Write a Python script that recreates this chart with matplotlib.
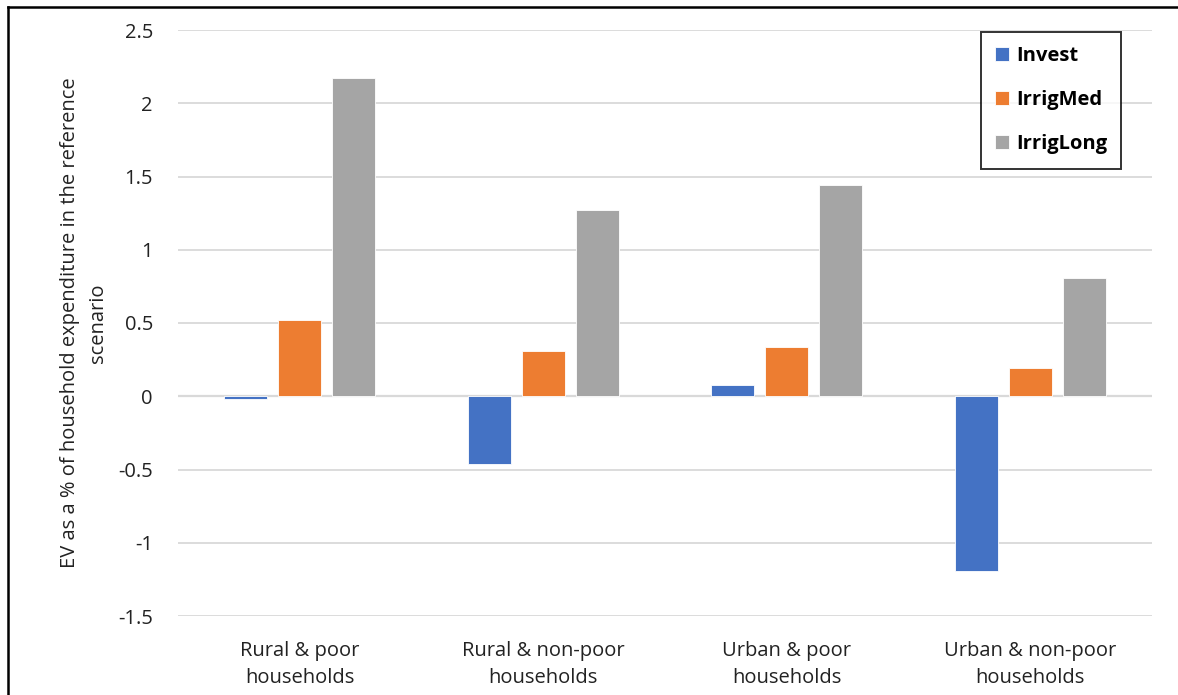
import matplotlib.pyplot as plt
import numpy as np
from matplotlib.lines import Line2D

categories = ["Rural & poor\nhouseholds", "Rural & non-poor\nhouseholds",
              "Urban & poor\nhouseholds", "Urban & non-poor\nhouseholds"]
series_names = ["Invest", "IrrigMed", "IrrigLong"]
invest = [-0.02, -0.46, 0.08, -1.19]
irrig_med = [0.52, 0.31, 0.335, 0.19]
irrig_long = [2.17, 1.27, 1.44, 0.805]
colors = ["#4472C4", "#ED7D31", "#A5A5A5"]

plt.rcParams["font.family"] = ["Open Sans", "DejaVu Sans"]
fs = 14.5

fig = plt.figure(figsize=(11.78, 6.95), dpi=100)
ax = fig.add_axes([178 / 1178, 1 - 616 / 695, (1152 - 178) / 1178, (616 - 30) / 695])

x = np.arange(len(categories))
width = 0.177
step = 0.222
for i, (name, vals) in enumerate(zip(series_names, [invest, irrig_med, irrig_long])):
    ax.bar(x + (i - 1) * step, vals, width, color=colors[i], label=name,
           edgecolor="white", linewidth=0.6, zorder=3)

ax.set_xlim(-0.5, len(categories) - 0.5)
ax.set_ylim(-1.5, 2.5)
ax.set_yticks(np.arange(-1.5, 2.51, 0.5))
ax.set_yticklabels(["-1.5", "-1", "-0.5", "0", "0.5", "1", "1.5", "2", "2.5"])
ax.set_xticks(x)
ax.set_xticklabels(categories, fontsize=fs, color="#222222", linespacing=1.45)
ax.tick_params(axis="y", labelsize=fs, labelcolor="#222222", length=0, pad=18)
ax.tick_params(axis="x", length=0, pad=18)
ax.grid(axis="y", color="#D9D9D9", linewidth=1.3, zorder=0)
ax.axhline(0, color="#D9D9D9", linewidth=1.6, zorder=2)
for s in ax.spines.values():
    s.set_visible(False)

ax.set_ylabel("EV as a % of household expenditure in the reference\nscenario",
              fontsize=fs, color="#222222", linespacing=1.55)
ax.yaxis.set_label_coords(-0.072, 0.5)

leg = ax.legend(loc="upper right", bbox_to_anchor=(1121 / 1178, 1 - 32 / 695),
                bbox_transform=fig.transFigure, frameon=True, fancybox=False,
                prop={"weight": "bold", "size": fs}, handlelength=0.7,
                handleheight=0.7, handletextpad=0.35, labelspacing=1.2,
                borderpad=0.7, borderaxespad=0)
leg.get_frame().set_edgecolor("black")
leg.get_frame().set_linewidth(1.4)

# outer chart border (top and left only)
fig.add_artist(Line2D([8 / 1178, 8 / 1178], [0, 1 - 7 / 695], color="black", linewidth=1.8))
fig.add_artist(Line2D([8 / 1178, 1], [1 - 7 / 695, 1 - 7 / 695], color="black", linewidth=1.8))

fig.savefig("out.png", dpi=100)
